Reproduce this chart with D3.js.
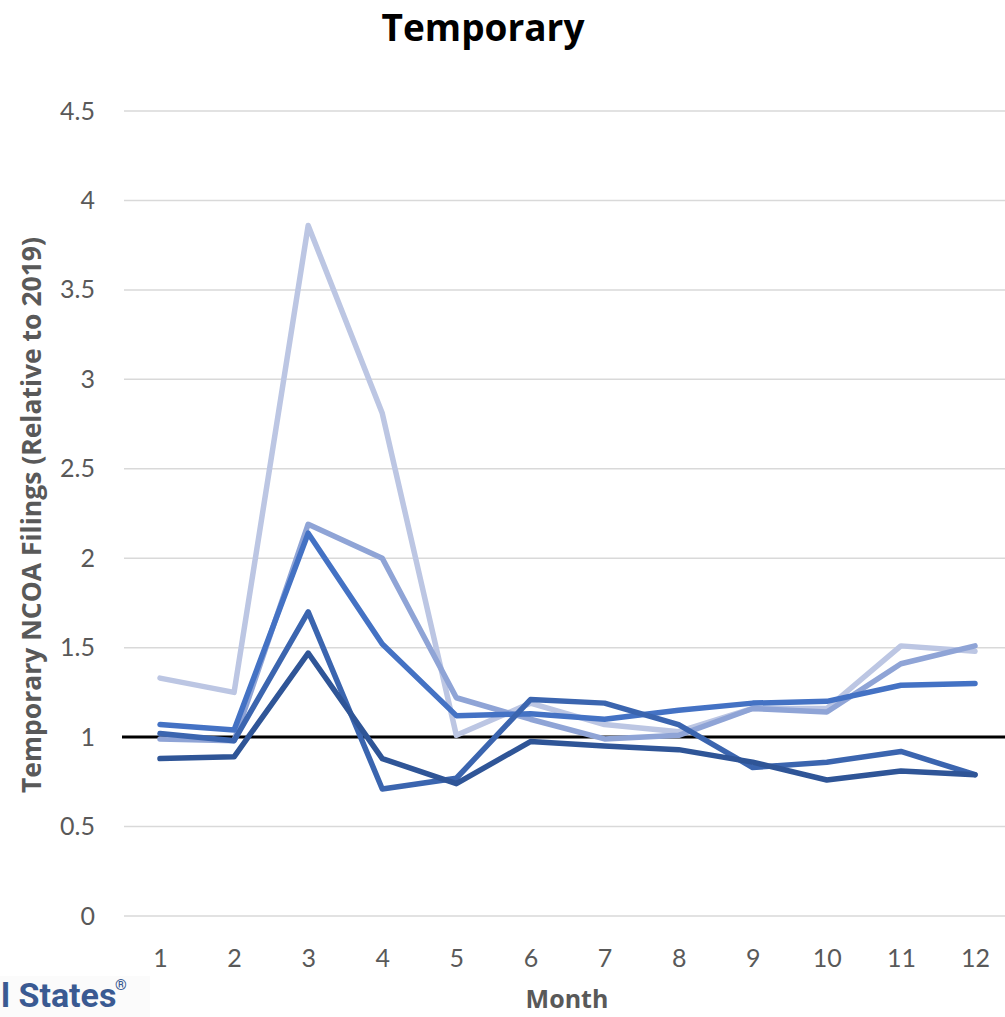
<!DOCTYPE html>
<html>
<head>
<meta charset="utf-8">
<script src="https://cdn.jsdelivr.net/npm/d3@7"></script>
<style>
  html, body { margin: 0; padding: 0; background: #fff; overflow: hidden; }
  svg { display: block; }
</style>
</head>
<body>
<svg id="chart" width="1005" height="1017"></svg>
<script>
// Months on the x axis
const months = [1, 2, 3, 4, 5, 6, 7, 8, 9, 10, 11, 12];

// Temporary NCOA filings relative to 2019, one array per series
const seriesA = [1.33, 1.25, 3.86, 2.81, 1.01, 1.19, 1.07, 1.03, 1.16, 1.16, 1.51, 1.48];
const seriesB = [0.99, 0.98, 2.19, 2.00, 1.22, 1.10, 0.99, 1.01, 1.16, 1.14, 1.41, 1.51];
const seriesC = [1.07, 1.04, 2.14, 1.52, 1.12, 1.13, 1.10, 1.15, 1.19, 1.20, 1.29, 1.30];
const seriesD = [1.02, 0.98, 1.70, 0.71, 0.77, 1.21, 1.19, 1.07, 0.83, 0.86, 0.92, 0.79];
const seriesE = [0.88, 0.89, 1.47, 0.88, 0.74, 0.975, 0.95, 0.93, 0.86, 0.76, 0.81, 0.79];

const seriesColors = ["#bcc6e3", "#8fa4d6", "#4472c4", "#3b65af", "#2f5597"];

// Y axis tick values and labels
const yTicks = [0, 0.5, 1, 1.5, 2, 2.5, 3, 3.5, 4, 4.5];
const yTickLabels = ["0", "0.5", "1", "1.5", "2", "2.5", "3", "3.5", "4", "4.5"];

const titleText = "Temporary";
const yTitle = "Temporary NCOA Filings (Relative to 2019)";
const xTitle = "Month";
const logoText = "l States";
const baselineValue = 1;

const allSeries = [seriesA, seriesB, seriesC, seriesD, seriesE];

const svg = d3.select("#chart");
const font = "Lato, 'Open Sans', sans-serif";
const boldFont = "'Open Sans', Lato, sans-serif";

const plotLeft = 124, plotRight = 1013;
const x = d3.scalePoint().domain(months).range([160, 975]);
const y = d3.scaleLinear().domain([0, 4.5]).range([916, 111]);

// Faint backdrop of the corner logo
svg.append("rect")
  .attr("x", 0).attr("y", 976)
  .attr("width", 150).attr("height", 41)
  .attr("fill", "#fbfbfb");

// Gridlines
svg.append("g")
  .selectAll("line")
  .data(yTicks)
  .join("line")
  .attr("x1", plotLeft).attr("x2", plotRight)
  .attr("y1", d => y(d)).attr("y2", d => y(d))
  .attr("stroke", "#d9d9d9")
  .attr("stroke-width", 1.5);

// Y axis labels
const yAxis = d3.axisLeft(y)
  .tickValues(yTicks)
  .tickFormat((d, i) => yTickLabels[i])
  .tickSize(0)
  .tickPadding(0);
const yg = svg.append("g").attr("transform", "translate(95,0)").call(yAxis);
yg.select(".domain").remove();
yg.selectAll("text")
  .attr("fill", "#595959")
  .style("font-family", font)
  .style("font-size", "25px");

// X axis labels
const xAxis = d3.axisBottom(x).tickSize(0).tickPadding(0);
const xg = svg.append("g").attr("transform", "translate(0,949)").call(xAxis);
xg.select(".domain").remove();
xg.selectAll("text")
  .attr("fill", "#595959")
  .style("font-family", font)
  .style("font-size", "25px");

// Reference line at 1
svg.append("line")
  .attr("x1", 122).attr("x2", 1005)
  .attr("y1", y(baselineValue)).attr("y2", y(baselineValue))
  .attr("stroke", "#000")
  .attr("stroke-width", 3);

// Series lines
const line = d3.line()
  .x((d, i) => x(months[i]))
  .y(d => y(d));

svg.append("g")
  .selectAll("path")
  .data(allSeries)
  .join("path")
  .attr("d", d => line(d))
  .attr("fill", "none")
  .attr("stroke", (d, i) => seriesColors[i])
  .attr("stroke-width", 5.5)
  .attr("stroke-linejoin", "round")
  .attr("stroke-linecap", "round");

// Title
svg.append("text")
  .attr("x", 483).attr("y", 41)
  .attr("text-anchor", "middle")
  .attr("fill", "#000")
  .style("font-family", boldFont)
  .style("font-weight", "bold")
  .style("font-size", "37px")
  .text(titleText);

// Y axis title
svg.append("text")
  .attr("transform", "translate(41,515) rotate(-90)")
  .attr("text-anchor", "middle")
  .attr("fill", "#595959")
  .style("font-family", boldFont)
  .style("font-weight", "bold")
  .style("font-size", "26.5px")
  .text(yTitle);

// X axis title
svg.append("text")
  .attr("x", 567).attr("y", 1008)
  .attr("text-anchor", "middle")
  .attr("fill", "#595959")
  .style("font-family", boldFont)
  .style("font-weight", "bold")
  .style("font-size", "25px")
  .text(xTitle);

// Corner logo text
svg.append("text")
  .attr("x", 1).attr("y", 1007)
  .attr("fill", "#3a5a92")
  .style("font-family", "Roboto, sans-serif")
  .style("font-weight", "bold")
  .style("font-size", "34px")
  .text(logoText);
svg.append("text")
  .attr("x", 115).attr("y", 990)
  .attr("fill", "#3a5a92")
  .style("font-family", "Roboto, sans-serif")
  .style("font-weight", "bold")
  .style("font-size", "15px")
  .text("\u00AE");
</script>
</body>
</html>
